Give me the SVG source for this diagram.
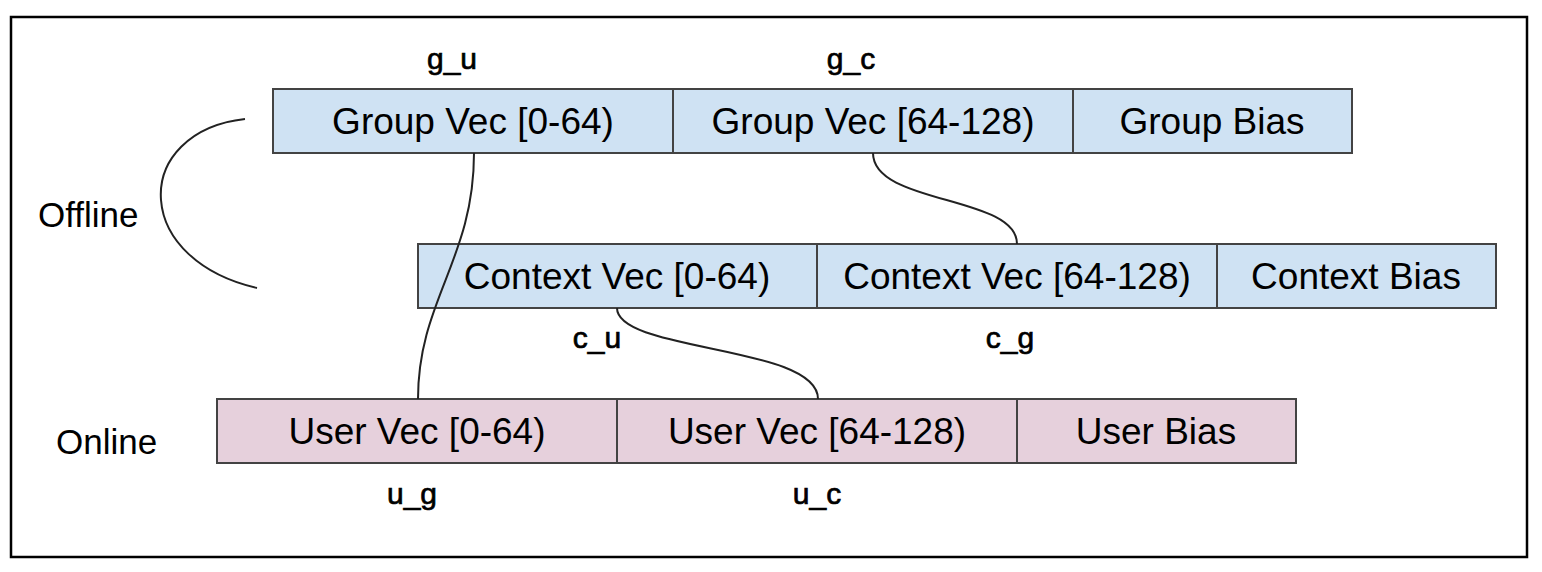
<svg xmlns="http://www.w3.org/2000/svg" width="1542" height="572" viewBox="0 0 1542 572">
<style>
.frame{fill:#ffffff;stroke:#000000;stroke-width:2.5}
.blue{fill:#cfe2f3;stroke:#434343;stroke-width:2}
.pink{fill:#e6d0dc;stroke:#434343;stroke-width:2}
.t{font-family:"Liberation Sans",Arial,sans-serif;font-size:37px;fill:#000;text-anchor:middle}
.lbl{font-family:"Liberation Sans",Arial,sans-serif;font-size:30px;fill:#000;stroke:#000;stroke-width:0.7;text-anchor:middle}
.side{font-family:"Liberation Sans",Arial,sans-serif;font-size:35px;fill:#000}
.c{fill:none;stroke:#222;stroke-width:2}
</style>
<rect x="0" y="0" width="1542" height="572" fill="#ffffff"/>
<rect class="frame" x="11" y="17" width="1516" height="540"/>
<g id="group-vec-0-64"><rect class="blue" x="273" y="89" width="400" height="64"/><text class="t" x="473" y="134">Group Vec [0-64)</text></g>
<g id="group-vec-64-128"><rect class="blue" x="673" y="89" width="400" height="64"/><text class="t" x="873" y="134">Group Vec [64-128)</text></g>
<g id="group-bias"><rect class="blue" x="1073" y="89" width="279" height="64"/><text class="t" x="1212" y="134">Group Bias</text></g>
<g id="context-vec-0-64"><rect class="blue" x="418" y="244" width="399" height="64"/><text class="t" x="617" y="289">Context Vec [0-64)</text></g>
<g id="context-vec-64-128"><rect class="blue" x="817" y="244" width="400" height="64"/><text class="t" x="1017" y="289">Context Vec [64-128)</text></g>
<g id="context-bias"><rect class="blue" x="1217" y="244" width="279" height="64"/><text class="t" x="1356" y="289">Context Bias</text></g>
<g id="user-vec-0-64"><rect class="pink" x="217" y="399" width="400" height="64"/><text class="t" x="417" y="444">User Vec [0-64)</text></g>
<g id="user-vec-64-128"><rect class="pink" x="617" y="399" width="400" height="64"/><text class="t" x="817" y="444">User Vec [64-128)</text></g>
<g id="user-bias"><rect class="pink" x="1017" y="399" width="279" height="64"/><text class="t" x="1156" y="444">User Bias</text></g>
<g id="labels">
<text class="lbl" x="452" y="69">g_u</text>
<text class="lbl" x="851" y="69">g_c</text>
<text class="lbl" x="597" y="348">c_u</text>
<text class="lbl" x="1010" y="348">c_g</text>
<text class="lbl" x="412" y="504">u_g</text>
<text class="lbl" x="817" y="504">u_c</text>
<text class="side" x="38" y="227">Offline</text>
<text class="side" x="56" y="454">Online</text>
</g>
<g id="connectors">
<path class="c" d="M245,119 C190,125 158,160 161,200 C164,240 200,275 257,288"/>
<path class="c" d="M474,153 C474,260 418,300 418,399"/>
<path class="c" d="M873,153 C873,205 1017,195 1017,244"/>
<path class="c" d="M617,308 C617,352 818,345 818,399"/>
</g>
</svg>
